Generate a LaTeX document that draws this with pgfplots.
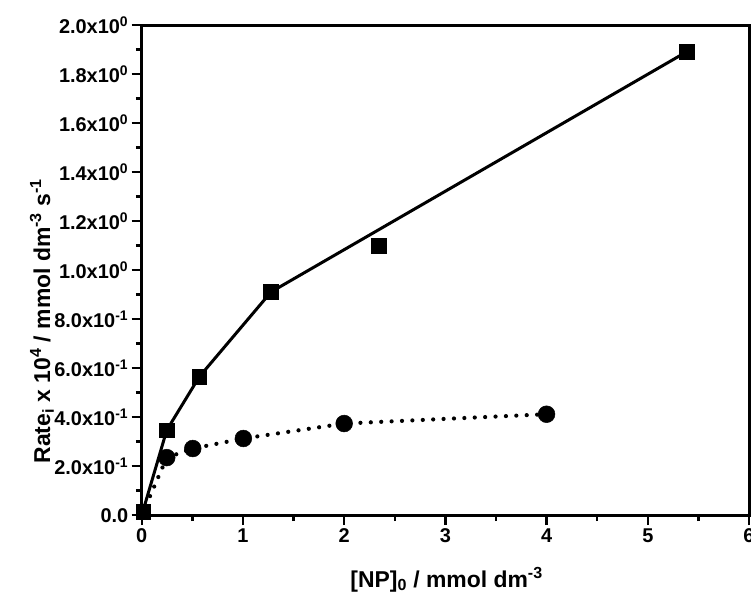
\documentclass[border=0pt]{standalone}
\usepackage{fontspec}
\setmainfont{Liberation Sans}
\usepackage{pgfplots}
\pgfplotsset{compat=1.18}
\begin{document}
\begin{tikzpicture}
\begin{axis}[
  scale only axis, width=607bp, height=490bp,
  xmin=0, xmax=6, ymin=0, ymax=2,
  axis line style={line width=3bp},
  xtick={0,1,2,3,4,5,6}, xticklabels={0,1,2,3,4,5,6},
  ytick={0,0.2,0.4,0.6,0.8,1.0,1.2,1.4,1.6,1.8,2.0},
  yticklabels={0.0,2.0x10\textsuperscript{-1},4.0x10\textsuperscript{-1},6.0x10\textsuperscript{-1},8.0x10\textsuperscript{-1},1.0x10\textsuperscript{0},1.2x10\textsuperscript{0},1.4x10\textsuperscript{0},1.6x10\textsuperscript{0},1.8x10\textsuperscript{0},2.0x10\textsuperscript{0}},
  minor x tick num=1, minor y tick num=1,
  tick align=outside, xtick pos=bottom, ytick pos=left,
  major tick length=10bp, minor tick length=6bp,
  tick style={line width=2.4bp, black},
  tick label style={font=\bfseries\fontsize{20}{20}\selectfont},
  xlabel={[NP]\textsubscript{0} / mmol dm\textsuperscript{-3}},
  ylabel={Rate\textsubscript{i} x 10\textsuperscript{4} / mmol dm\textsuperscript{-3} s\textsuperscript{-1}},
  label style={font=\bfseries\fontsize{23}{23}\selectfont},
  xlabel style={at={(axis description cs:0.502,-0.147)}, anchor=base},
  ylabel style={at={(axis description cs:-0.151,0.396)}, anchor=base},
  clip=false,
]
\addplot[black, line width=3bp, mark=none] coordinates {(0,0.0)(0.247,0.347)(0.569,0.565)(1.278,0.911)(5.385,1.891)};
\addplot[black, line width=4.2bp, line cap=round, dash pattern=on 0pt off 10.4bp, mark=none] coordinates {(0,0.0)(0.247,0.235)(0.504,0.272)(1.004,0.313)(2.0,0.374)(4.0,0.412)};
\addplot[only marks, mark=square*, mark size=7.4bp, mark options={black, fill=black, line width=0.5bp}] coordinates {(0.015,0.015)(0.247,0.347)(0.569,0.565)(1.278,0.911)(2.342,1.098)(5.385,1.891)};
\addplot[only marks, mark=*, mark size=8.4bp, mark options={black, fill=black, line width=0.5bp}] coordinates {(0.247,0.235)(0.504,0.272)(1.004,0.313)(2.0,0.374)(4.0,0.412)};
\end{axis}
\pgfresetboundingbox
\path ([shift={(-141.7bp,-82bp)}]current axis.south west) rectangle ([shift={(2bp,25bp)}]current axis.north east);
\end{tikzpicture}
\end{document}
